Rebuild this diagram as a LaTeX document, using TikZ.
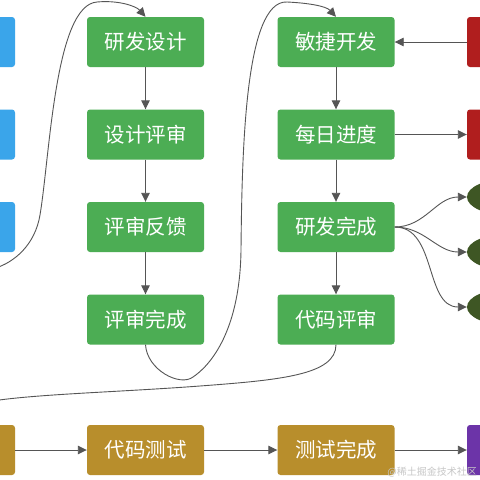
\documentclass[tikz,border=0pt]{standalone}
\usepackage{fontspec}
\setmainfont{Noto Sans CJK SC}
\usetikzlibrary{arrows.meta,shapes.geometric}
\definecolor{gboxc}{RGB}{76,173,84}
\definecolor{bboxc}{RGB}{58,165,234}
\definecolor{rboxc}{RGB}{176,30,30}
\definecolor{yboxc}{RGB}{184,142,44}
\definecolor{pboxc}{RGB}{108,52,168}
\definecolor{eboxc}{RGB}{62,86,36}
\definecolor{linec}{RGB}{85,85,85}
\begin{document}
\begin{tikzpicture}[x=1pt,y=-1pt,
  box/.style={rectangle, rounded corners=3pt, minimum width=117pt, minimum height=50pt, inner sep=0pt, text=white, font=\fontsize{20.5}{20.5}\selectfont},
  gbox/.style={box, fill=gboxc},
  bbox/.style={box, fill=bboxc},
  rbox/.style={box, fill=rboxc},
  ybox/.style={box, fill=yboxc},
  pbox/.style={box, fill=pboxc},
  ebox/.style={ellipse, fill=eboxc, minimum width=80pt, minimum height=36pt, inner sep=0pt},
  arr/.style={draw=linec, line width=0.9pt, -{Triangle[length=9pt,width=8.5pt]}},
  wm/.style={text=black!22, font=\fontsize{10}{10}\selectfont, inner sep=0pt}]
\useasboundingbox (0,0) rectangle (480,480);
\fill[white] (0,0) rectangle (480,480);
\clip (0,0) rectangle (480,480);

% green column 1
\node[gbox] (n1) at (145.5,42) {研发设计};
\node[gbox] (n2) at (145.5,134.5) {设计评审};
\node[gbox] (n3) at (145.5,227) {评审反馈};
\node[gbox] (n4) at (145.5,319.5) {评审完成};
% green column 2
\node[gbox] (m1) at (336,42) {敏捷开发};
\node[gbox] (m2) at (336,134.5) {每日进度};
\node[gbox] (m3) at (336,227) {研发完成};
\node[gbox] (m4) at (336,319.5) {代码评审};
% bottom row
\node[ybox] (t1) at (145.5,450) {代码测试};
\node[ybox] (t2) at (336,450) {测试完成};
% partial boxes at the edges
\node[bbox] (b1) at (-43.5,42) {};
\node[bbox] (b2) at (-43.5,134.5) {};
\node[bbox] (b3) at (-43.5,227) {};
\node[ybox] (g) at (-43.5,450) {};
\node[rbox] (r1) at (525.5,42) {};
\node[rbox] (r2) at (525.5,134.5) {};
\node[pbox] (p) at (525.5,450) {};
\node[ebox] (e1) at (507,197) {};
\node[ebox] (e2) at (507,252) {};
\node[ebox] (e3) at (507,307) {};

% straight connectors
\draw[arr] (n1) -- (n2);
\draw[arr] (n2) -- (n3);
\draw[arr] (n3) -- (n4);
\draw[arr] (m1) -- (m2);
\draw[arr] (m2) -- (m3);
\draw[arr] (m3) -- (m4);
\draw[arr] (r1) -- (m1);
\draw[arr] (m2) -- (r2);
\draw[arr] (g) -- (t1);
\draw[arr] (t1) -- (t2);
\draw[arr] (t2) -- (p);

% fan-out to ellipses
\draw[arr] (m3.east) to[out=0,in=180] (e1.west);
\draw[arr] (m3.east) to[out=0,in=180] (e2.west);
\draw[arr] (m3.east) to[out=0,in=180] (e3.west);

% long curves
\draw[arr] (b3.south) .. controls (-43.5,285) and (30,275) .. (40,215)
  .. controls (50,155) and (55,5) .. (97,2)
  .. controls (118,0) and (136,6) .. (n1.north);
\draw[arr] (n4.south) .. controls (147,370) and (180,387) .. (193,377)
  .. controls (211,365) and (240,330) .. (241,250)
  .. controls (242,150) and (245,0) .. (287,2)
  .. controls (308,3) and (326,6) .. (m1.north);
\draw[arr] (m4.south) .. controls (336,375) and (280,380) .. (200,386)
  .. controls (80,395) and (-43.5,395) .. (g.north);

% site mark
\node[wm, anchor=east] (mark) at (477,472) {@稀土掘金技术社区};
\end{tikzpicture}
\end{document}
